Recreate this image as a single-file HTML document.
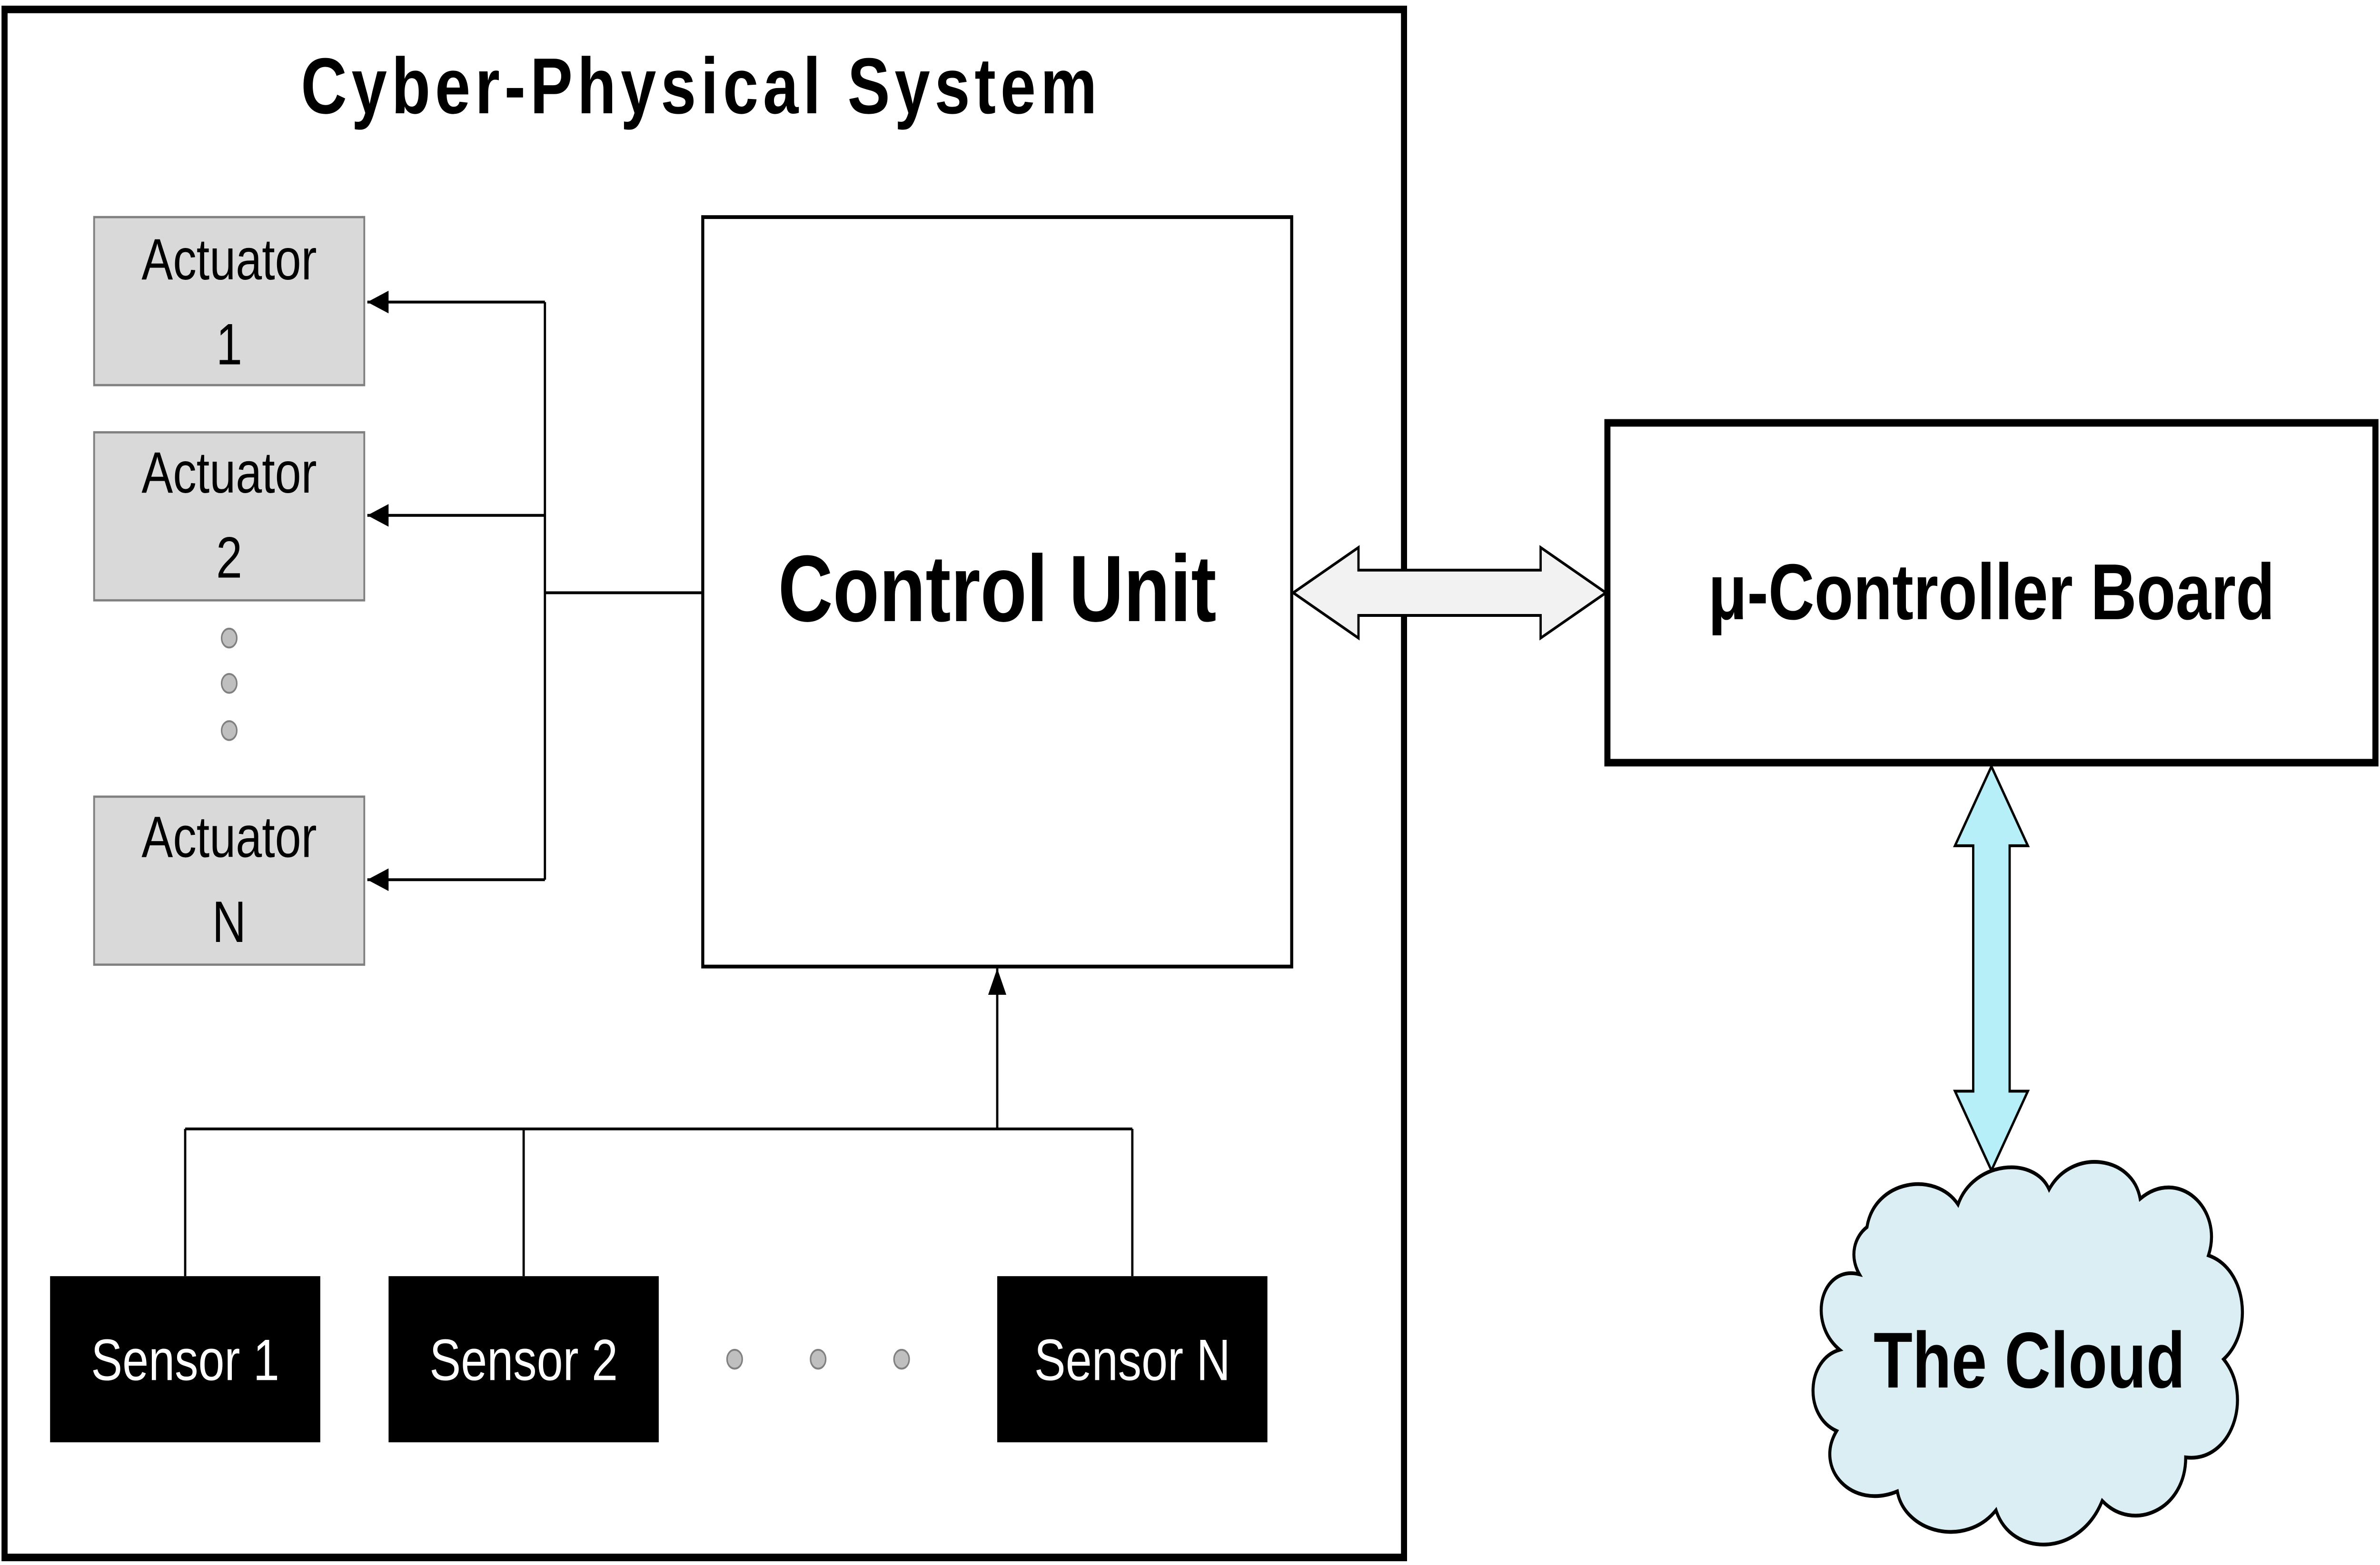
<!DOCTYPE html>
<html><head><meta charset="utf-8"><style>
html,body{margin:0;padding:0;background:#fff;width:100vw;height:100vh;overflow:hidden}
svg{display:block;width:100vw;height:100vh}
text{font-family:"Liberation Sans","DejaVu Sans",sans-serif}
</style></head><body>
<svg viewBox="0 0 1568 829" preserveAspectRatio="none" xmlns="http://www.w3.org/2000/svg">
<defs>
<marker id="ah2" markerWidth="14" markerHeight="12" refX="14" refY="6" orient="auto" markerUnits="userSpaceOnUse">
<path d="M0,0 L14,6 L0,12 z" fill="#000"/></marker>
</defs>
<rect x="0" y="0" width="1568" height="829" fill="#fff"/>
<rect x="3" y="5" width="922" height="820" fill="#fff" stroke="#000" stroke-width="4"/>
<text x="462" y="60" font-size="42" font-weight="bold" text-anchor="middle" letter-spacing="3">Cyber-Physical System</text>

<g font-size="31" text-anchor="middle">
<rect x="62" y="115" width="178" height="89" fill="#d9d9d9" stroke="#808080" stroke-width="1.2"/>
<text x="151" y="148">Actuator</text><text x="151" y="193">1</text>
<rect x="62" y="229" width="178" height="89" fill="#d9d9d9" stroke="#808080" stroke-width="1.2"/>
<text x="151" y="261">Actuator</text><text x="151" y="306">2</text>
<rect x="62" y="422" width="178" height="89" fill="#d9d9d9" stroke="#808080" stroke-width="1.2"/>
<text x="151" y="454">Actuator</text><text x="151" y="499">N</text>
</g>
<g fill="#bfbfbf" stroke="#808080" stroke-width="1">
<circle cx="151" cy="338" r="5"/><circle cx="151" cy="362" r="5"/><circle cx="151" cy="387" r="5"/>
<circle cx="484" cy="720" r="5"/><circle cx="539" cy="720" r="5"/><circle cx="594" cy="720" r="5"/>
</g>
<g stroke="#000" stroke-width="1.5" fill="none">
<line x1="359" y1="160" x2="359" y2="466"/>
<line x1="359" y1="160" x2="242" y2="160" marker-end="url(#ah2)"/>
<line x1="359" y1="273" x2="242" y2="273" marker-end="url(#ah2)"/>
<line x1="359" y1="466" x2="242" y2="466" marker-end="url(#ah2)"/>
<line x1="359" y1="314" x2="463" y2="314"/>
<line x1="657" y1="598" x2="657" y2="513" marker-end="url(#ah2)"/>
<line x1="122" y1="598" x2="746" y2="598"/>
<line x1="122" y1="598" x2="122" y2="676"/>
<line x1="345" y1="598" x2="345" y2="676"/>
<line x1="746" y1="598" x2="746" y2="676"/>
</g>
<rect x="463" y="115" width="388" height="397" fill="#fff" stroke="#000" stroke-width="2"/>
<text x="657" y="329" font-size="50" font-weight="bold" text-anchor="middle">Control Unit</text>

<g font-size="31" text-anchor="middle" fill="#fff">
<rect x="33" y="676" width="178" height="88" fill="#000"/><text x="122" y="731">Sensor 1</text>
<rect x="256" y="676" width="178" height="88" fill="#000"/><text x="345" y="731">Sensor 2</text>
<rect x="657" y="676" width="178" height="88" fill="#000"/><text x="746" y="731">Sensor N</text>
</g>

<path d="M852,314 L895,290 L895,302 L1015,302 L1015,290 L1058,314 L1015,338 L1015,326 L895,326 L895,338 Z" fill="#f2f2f2" stroke="#000" stroke-width="1.5"/>

<rect x="1059" y="224" width="506" height="180" fill="#fff" stroke="#000" stroke-width="4"/>
<text x="1312" y="328" font-size="42" font-weight="bold" text-anchor="middle">μ-Controller Board</text>

<path d="M1312,406 L1336,448 L1324,448 L1324,578 L1336,578 L1312,620 L1288,578 L1300,578 L1300,448 L1288,448 Z" fill="#b7eff9" stroke="#000" stroke-width="1.5"/>

<path d="M1230,650 C1235,625 1275,620 1290,638 C1300,615 1340,612 1350,630 C1365,608 1405,612 1410,635 C1435,618 1465,640 1455,665 C1480,672 1485,705 1465,720 C1485,740 1470,775 1440,772 C1440,800 1405,812 1385,795 C1370,825 1325,825 1315,800 C1295,820 1255,812 1250,790 C1220,800 1195,778 1210,758 C1188,750 1190,720 1212,715 C1190,700 1200,670 1225,675 C1218,665 1222,655 1230,650 Z" fill="#dbeef4" stroke="#000" stroke-width="2"/>
<text x="1337" y="735" font-size="42" font-weight="bold" text-anchor="middle">The Cloud</text>
</svg>
</body></html>
